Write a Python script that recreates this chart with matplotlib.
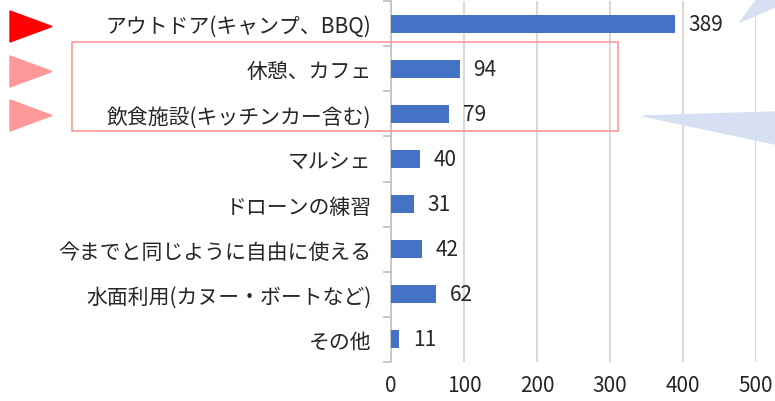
import matplotlib
matplotlib.use("Agg")
import matplotlib.pyplot as plt
from matplotlib.patches import Polygon, Rectangle
import numpy as np

plt.rcParams['font.family'] = ['Noto Sans CJK JP', 'DejaVu Sans']

categories = ["アウトドア(キャンプ、BBQ)", "休憩、カフェ", "飲食施設(キッチンカー含む)",
              "マルシェ", "ドローンの練習", "今までと同じように自由に使える",
              "水面利用(カヌー・ボートなど)", "その他"]
values = [389, 94, 79, 40, 31, 42, 62, 11]
xticks = [0, 100, 200, 300, 400, 500]

W, H = 775, 402
fig = plt.figure(figsize=(W / 100, H / 100), dpi=100)
ax = fig.add_axes([391 / W, 1 - 363 / H, (756 - 391) / W, (363 - 2) / H])

def px(x, y):
    # top-left pixel coords -> figure fraction
    return (x / W, 1 - y / H)

y = np.arange(len(categories))
ax.barh(y, values, height=0.4, color='#4472C4', zorder=3)
for yi, v in zip(y, values):
    ax.annotate(str(v), (v, yi), xytext=(10, 0), textcoords='offset points',
                va='center', ha='left', fontsize=15, color='#262626')

ax.set_ylim(len(categories) - 0.5, -0.5)
ax.set_xlim(0, 500)
ax.set_xticks(xticks)
ax.set_yticks(y)
ax.set_yticklabels(categories)
ax.set_yticks(np.arange(len(categories) + 1) - 0.5, minor=True)
ax.tick_params(axis='y', which='major', length=0, pad=14, labelsize=15, labelcolor='#262626')
ax.tick_params(axis='y', which='minor', length=6, color='#bfbfbf', width=1.2)
ax.tick_params(axis='x', length=0, pad=9, labelsize=15, labelcolor='#262626')
ax.grid(axis='x', color='#d9d9d9', linewidth=1.5, zorder=0)
for s in ['top', 'right', 'bottom']:
    ax.spines[s].set_visible(False)
ax.spines['left'].set_color('#bfbfbf')
ax.spines['left'].set_linewidth(1.2)

# arrows on the left
for (top, bot), col in zip([(12, 43), (57, 88), (101, 132)], ['#ff0000', '#ff9999', '#ff9999']):
    mid = (top + bot) / 2
    fig.patches.append(Polygon([px(10, top), px(52, mid), px(10, bot)], closed=True,
                               transform=fig.transFigure, color=col, zorder=5))

# highlight box
x0, y0 = px(72, 132)
fig.patches.append(Rectangle((x0, y0), (618 - 72) / W, (132 - 43) / H, transform=fig.transFigure,
                             fill=False, edgecolor='#ff9999', linewidth=1.2, zorder=5))

# callout pieces at right edge
fig.patches.append(Polygon([px(740, 23), px(757, 0), px(775, 0), px(775, 8)], closed=True,
                           transform=fig.transFigure, color='#d6e0f2', zorder=5))
fig.patches.append(Polygon([px(643, 117), px(775, 113), px(775, 145)], closed=True,
                           transform=fig.transFigure, color='#d6e0f2', zorder=5))

fig.savefig("out.png", dpi=100)
